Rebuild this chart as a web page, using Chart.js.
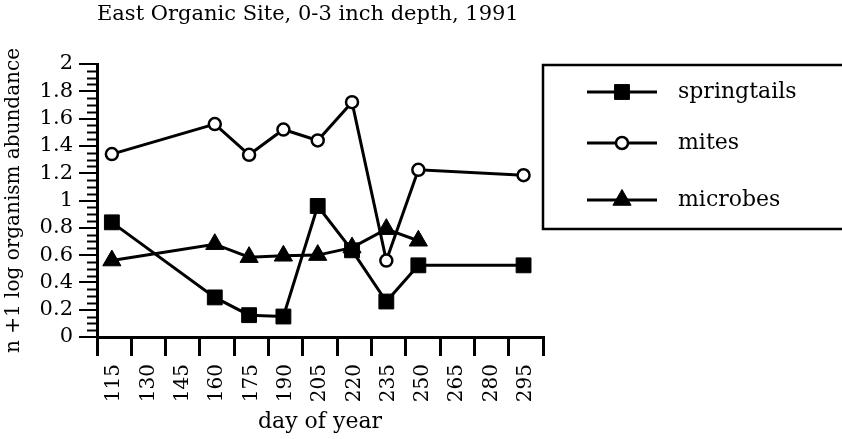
<!DOCTYPE html>
<html>
<head>
<meta charset="utf-8">
<script src="https://cdn.jsdelivr.net/npm/chart.js@4/dist/chart.umd.min.js"></script>
<style>
  body { margin: 0; background: #fff; }
  canvas { display: block; }
</style>
</head>
<body>
<canvas id="soilChart" width="842" height="439"></canvas>
<script>
// day of year tick labels
const dayTicks = [115, 130, 145, 160, 175, 190, 205, 220, 235, 250, 265, 280, 295];

// sampling days and n+1 log abundance
const springDays = [114, 159, 174, 189, 204, 219, 234, 248, 294];
const springtails = [0.84, 0.29, 0.16, 0.15, 0.96, 0.635, 0.26, 0.525, 0.525];

const miteDays = [114, 159, 174, 189, 204, 219, 234, 248, 294];
const mites = [1.34, 1.56, 1.335, 1.52, 1.44, 1.72, 0.56, 1.225, 1.185];

const microbeDays = [114, 159, 174, 189, 204, 219, 234, 248];
const microbes = [0.56, 0.68, 0.585, 0.595, 0.60, 0.655, 0.79, 0.705];

const toPoints = (days, vals) => days.map((d, i) => ({ x: d, y: vals[i] }));

const serif = '"DejaVu Serif", "Liberation Serif", serif';
Chart.defaults.font.family = serif;
Chart.defaults.color = '#000';

// minor ticks on the y axis + boxed legend on the right
const extras = {
    id: 'extras',
    afterDraw(chart) {
        const ctx = chart.ctx;
        const y = chart.scales.y;
        const left = chart.chartArea.left;
        ctx.save();
        ctx.strokeStyle = '#000';
        ctx.lineWidth = 2;
        for (let k = 0; k <= 40; k++) {
            if (k % 4 === 0) continue;
            const py = Math.round(y.getPixelForValue(k * 0.05)) + 0.5;
            ctx.beginPath();
            ctx.moveTo(left - 10, py);
            ctx.lineTo(left, py);
            ctx.stroke();
        }

        // legend box
        const boxLeft = chart.chartArea.right;
        ctx.lineWidth = 2.5;
        ctx.strokeRect(boxLeft, 65, 320, 164);
        const rows = [92, 143, 200];
        ctx.font = '22px ' + serif;
        ctx.textBaseline = 'middle';
        chart.data.datasets.forEach((ds, i) => {
            const ry = rows[i];
            ctx.strokeStyle = '#000';
            ctx.lineWidth = 3;
            ctx.beginPath();
            ctx.moveTo(boxLeft + 44, ry);
            ctx.lineTo(boxLeft + 114, ry);
            ctx.stroke();
            ctx.fillStyle = ds.pointBackgroundColor;
            ctx.lineWidth = ds.pointBorderWidth;
            Chart.helpers.drawPoint(ctx, {
                pointStyle: ds.pointStyle,
                radius: ds.pointRadius,
                borderWidth: ds.pointBorderWidth,
                rotation: 0
            }, boxLeft + 79, ry);
            ctx.fillStyle = '#000';
            ctx.fillText(ds.label, boxLeft + 135, ry);
        });
        ctx.restore();
    }
};

const ctx = document.getElementById('soilChart').getContext('2d');
new Chart(ctx, {
    type: 'line',
    data: {
        datasets: [
            {
                label: 'springtails',
                data: toPoints(springDays, springtails),
                borderColor: '#000',
                borderWidth: 3,
                pointStyle: 'rect',
                pointRadius: 10.5,
                pointBackgroundColor: '#000',
                pointBorderColor: '#000',
                pointBorderWidth: 1
            },
            {
                label: 'mites',
                data: toPoints(miteDays, mites),
                borderColor: '#000',
                borderWidth: 3,
                pointStyle: 'circle',
                pointRadius: 6,
                pointBackgroundColor: '#fff',
                pointBorderColor: '#000',
                pointBorderWidth: 2.5
            },
            {
                label: 'microbes',
                data: toPoints(microbeDays, microbes),
                borderColor: '#000',
                borderWidth: 3,
                pointStyle: 'triangle',
                pointRadius: 10.5,
                pointBackgroundColor: '#000',
                pointBorderColor: '#000',
                pointBorderWidth: 1
            }
        ]
    },
    options: {
        responsive: false,
        animation: false,
        layout: { padding: { right: 299 } },
        plugins: {
            legend: { display: false },
            tooltip: { enabled: false },
            title: {
                display: true,
                text: 'East Organic Site, 0-3 inch depth, 1991',
                align: 'start',
                fullSize: false,
                font: { size: 21, weight: 'normal', family: serif },
                color: '#000',
                padding: { top: 2, bottom: 36.8 }
            }
        },
        scales: {
            x: {
                type: 'linear',
                min: 107.5,
                max: 302.5,
                afterBuildTicks: s => { s.ticks = dayTicks.map(v => ({ value: v })); },
                afterFit: s => { s.height = 102; },
                grid: {
                    offset: true,
                    drawOnChartArea: false,
                    drawTicks: true,
                    tickLength: 19,
                    color: '#000',
                    lineWidth: 3
                },
                border: { display: true, color: '#000', width: 3 },
                ticks: {
                    minRotation: 90,
                    maxRotation: 90,
                    padding: 8,
                    autoSkip: false,
                    font: { size: 20 },
                    color: '#000'
                },
                title: {
                    display: true,
                    text: 'day of year',
                    font: { size: 22 },
                    color: '#000',
                    padding: { top: 0, bottom: 4 }
                }
            },
            y: {
                min: 0,
                max: 2,
                afterFit: s => { s.width = 97; },
                grid: {
                    drawOnChartArea: false,
                    drawTicks: true,
                    tickLength: 18,
                    color: '#000',
                    lineWidth: 2
                },
                border: { display: true, color: '#000', width: 3 },
                ticks: {
                    stepSize: 0.2,
                    autoSkip: false,
                    padding: 6,
                    font: { size: 21 },
                    color: '#000',
                    callback: v => +v.toFixed(1)
                },
                title: {
                    display: true,
                    text: 'n +1 log organism abundance',
                    font: { size: 20 },
                    color: '#000',
                    padding: { top: 2, bottom: 0 }
                }
            }
        }
    },
    plugins: [extras]
});
</script>
</body>
</html>
